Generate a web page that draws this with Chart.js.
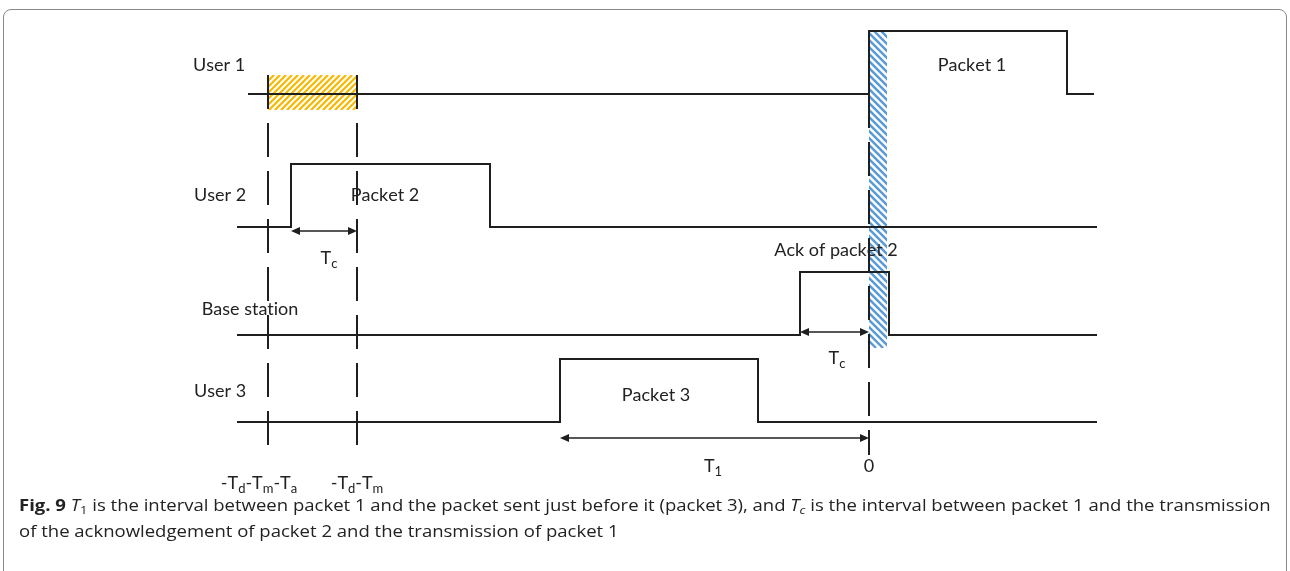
<!DOCTYPE html>
<html>
<head>
<meta charset="utf-8">
<script src="https://cdn.jsdelivr.net/npm/chart.js@4.4.1/dist/chart.umd.min.js"></script>
<style>
  html, body { margin: 0; padding: 0; background: #fff; }
  #wrap { position: relative; width: 1290px; height: 571px; overflow: hidden; }
  #frame { position: absolute; left: 3px; top: 9px; width: 1284px; height: 600px;
           border: 1px solid #8a8a8a; border-radius: 8px; box-sizing: border-box; }
  #diagram { position: absolute; left: 0; top: 0; }
  .cap { position: absolute; left: 19px; white-space: nowrap; transform-origin: left center;
         font-family: "Open Sans", sans-serif; font-size: 16px; color: #222; line-height: 24px; }
  .cap sub { font-size: 0.7em; vertical-align: -0.3em; line-height: 0; }
  #cap1 { top: 493px; }
  #cap2 { top: 519px; }
</style>
</head>
<body>
<div id="wrap">
  <div id="frame"></div>
  <canvas id="diagram" width="1290" height="571"></canvas>
  <div class="cap" id="cap1"><b>Fig. 9</b> <i>T</i><sub>1</sub> is the interval between packet 1 and the packet sent just before it (packet 3), and <i>T<sub>c</sub></i> is the interval between packet 1 and the transmission</div>
  <div class="cap" id="cap2">of the acknowledgement of packet 2 and the transmission of packet 1</div>
</div>
<script>
// ── данные диаграммы (время: 0 = начало пакета 1) ──
const laneNames   = ['User 1', 'User 2', 'Base station', 'User 3'];
const laneLow     = [39.6, 26.3, 15.5, 6.8];
const pulseHeight = 6.3;
const traceStart  = [-62.1, -63.2, -63.2, -63.2];
const traceEnd    = [22.5, 22.8, 22.8, 22.8];
const pulseStart  = [0, -57.8, -6.9, -30.9];
const pulseEnd    = [19.8, -37.9, 2.0, -11.1];
const pulseNames  = ['Packet 1', 'Packet 2', 'Ack of packet 2', 'Packet 3'];

const markTimes = [-60.1, -51.2, 0];
const markNames = ['-T_d-T_m-T_a', '-T_d-T_m', '0'];
const markTop   = [41.5, 41.5, 39.6];
const markBottom = 3.5;

const intervalFrom  = [-57.8, -6.9, -30.9];
const intervalTo    = [-51.2, 0, 0];
const intervalLevel = [25.9, 15.8, 5.2];
const intervalNames = ['T_c', 'T_c', 'T_1'];

// заштрихованные окна: [x0, x1, y0, y1]
const windowYellow = [-60.1, -51.2, 38.0, 41.5];
const windowBlue   = [0, 1.8, 14.2, 45.9];

// ── размещение подписей (в единицах данных) ──
const laneLabelPos     = [[-65.0, 42.5], [-64.9, 29.5], [-61.9, 18.1], [-64.9, 9.9]];
const pulseLabelPos    = [[10.3, 42.5], [-48.4, 29.5], [-3.3, 24.0], [-21.3, 9.5]];
const intervalLabelPos = [[-54.0, 23.2], [-3.2, 13.2], [-15.6, 2.4]];
const markLabelPos     = [[-61.0, 0.7], [-51.2, 0.7], [0, 2.4]];

const INK = '#1f1f1f';
const LABEL_FONT = '"Lato", "Open Sans", sans-serif';

function lanePoints(i) {
  const lo = laneLow[i], hi = laneLow[i] + pulseHeight;
  return [
    { x: traceStart[i], y: lo }, { x: pulseStart[i], y: lo },
    { x: pulseStart[i], y: hi }, { x: pulseEnd[i], y: hi },
    { x: pulseEnd[i], y: lo },   { x: traceEnd[i], y: lo },
  ];
}

const datasets = [];
laneNames.forEach((name, i) => {
  datasets.push({
    label: name, data: lanePoints(i), showLine: true,
    borderColor: INK, borderWidth: 2, pointRadius: 0, tension: 0,
  });
});
markTimes.forEach((t, i) => {
  datasets.push({
    label: 'mark ' + i, data: [{ x: t, y: markTop[i] }, { x: t, y: markBottom }], showLine: true,
    borderColor: INK, borderWidth: 2, borderDash: [34, 14], pointRadius: 0,
  });
});

// рисует текст с нижними индексами: "T_c" -> T + c(sub)
function drawRich(ctx, text, cx, cy, size) {
  const parts = [];
  for (let k = 0; k < text.length; k++) {
    if (text[k] === '_' && k + 1 < text.length) { parts.push({ s: text[k + 1], sub: true }); k++; }
    else parts.push({ s: text[k], sub: false });
  }
  const subSize = Math.round(size * 0.72);
  let w = 0;
  parts.forEach(p => {
    ctx.font = (p.sub ? subSize : size) + 'px ' + LABEL_FONT;
    p.w = ctx.measureText(p.s).width; w += p.w;
  });
  let x = cx - w / 2;
  ctx.textBaseline = 'middle'; ctx.textAlign = 'left';
  parts.forEach(p => {
    ctx.font = (p.sub ? subSize : size) + 'px ' + LABEL_FONT;
    ctx.fillText(p.s, x, p.sub ? cy + size * 0.32 : cy);
    x += p.w;
  });
}

function hatch(ctx, xs, ys, win, color, dir, step, lw) {
  const x0 = xs.getPixelForValue(win[0]), x1 = xs.getPixelForValue(win[1]);
  const y0 = ys.getPixelForValue(win[3]), y1 = ys.getPixelForValue(win[2]);
  const w = x1 - x0, h = y1 - y0;
  ctx.save();
  ctx.beginPath(); ctx.rect(x0, y0, w, h); ctx.clip();
  ctx.strokeStyle = color; ctx.lineWidth = lw;
  ctx.beginPath();
  for (let k = -h - step; k < w + h + step; k += step) {
    if (dir > 0) { ctx.moveTo(x0 + k, y1); ctx.lineTo(x0 + k + h, y0); }
    else         { ctx.moveTo(x0 + k, y0); ctx.lineTo(x0 + k + h, y1); }
  }
  ctx.stroke();
  ctx.restore();
}

function arrowHead(ctx, x, y, dir) {
  ctx.beginPath();
  ctx.moveTo(x, y);
  ctx.lineTo(x - dir * 9, y - 4);
  ctx.lineTo(x - dir * 9, y + 4);
  ctx.closePath(); ctx.fill();
}

const decorPlugin = {
  id: 'decor',
  beforeDatasetsDraw(chart) {
    const { ctx, scales: { x, y } } = chart;
    hatch(ctx, x, y, windowYellow, '#f9b800', 1, 6, 2.2);
    hatch(ctx, x, y, windowBlue, '#5b9bd5', -1, 7, 2.4);
  },
  afterDatasetsDraw(chart) {
    const { ctx, scales: { x, y } } = chart;
    ctx.save();
    ctx.fillStyle = INK; ctx.strokeStyle = INK; ctx.lineWidth = 1.6;
    // интервалы со стрелками
    intervalFrom.forEach((f, i) => {
      const xa = x.getPixelForValue(f), xb = x.getPixelForValue(intervalTo[i]);
      const yy = y.getPixelForValue(intervalLevel[i]);
      ctx.beginPath(); ctx.moveTo(xa + 4, yy); ctx.lineTo(xb - 4, yy); ctx.stroke();
      arrowHead(ctx, xa, yy, -1);
      arrowHead(ctx, xb, yy, 1);
    });
    ctx.fillStyle = '#222';
    laneNames.forEach((n, i) => drawRich(ctx, n, x.getPixelForValue(laneLabelPos[i][0]), y.getPixelForValue(laneLabelPos[i][1]), 18));
    pulseNames.forEach((n, i) => drawRich(ctx, n, x.getPixelForValue(pulseLabelPos[i][0]), y.getPixelForValue(pulseLabelPos[i][1]), 18));
    intervalNames.forEach((n, i) => drawRich(ctx, n, x.getPixelForValue(intervalLabelPos[i][0]), y.getPixelForValue(intervalLabelPos[i][1]), 18));
    markNames.forEach((n, i) => drawRich(ctx, n, x.getPixelForValue(markLabelPos[i][0]), y.getPixelForValue(markLabelPos[i][1]), 18));
    ctx.restore();
  },
};

new Chart(document.getElementById('diagram'), {
  type: 'scatter',
  data: { datasets },
  options: {
    responsive: false, animation: false, devicePixelRatio: 1,
    layout: { padding: 0 },
    plugins: { legend: { display: false }, tooltip: { enabled: false } },
    scales: {
      x: { type: 'linear', display: false, min: -86.9, max: 42.1 },
      y: { type: 'linear', display: false, min: -8.1, max: 49 },
    },
  },
  plugins: [decorPlugin],
});

// подгоняем ширину подписи к оригиналу
const cap1 = document.getElementById('cap1'), cap2 = document.getElementById('cap2');
const k = 1252 / cap1.scrollWidth;
cap1.style.transform = 'scaleX(' + k + ')';
cap2.style.transform = 'scaleX(' + k + ')';
</script>
</body>
</html>
